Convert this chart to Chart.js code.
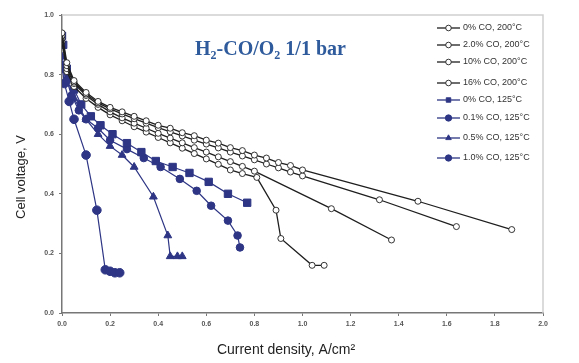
<!DOCTYPE html>
<html>
<head>
<meta charset="utf-8">
<script src="https://cdn.jsdelivr.net/npm/chart.js@4.4.1/dist/chart.umd.min.js"></script>
<style>
  html, body { margin: 0; padding: 0; background: #fff; }
  #wrap { width: 579px; height: 363px; }
</style>
</head>
<body>
<div id="wrap"><canvas id="polChart" width="579" height="363"></canvas></div>
<script>
// polarisation curves, H2-CO/O2 1/1 bar
const xTicks = [0, 0.2, 0.4, 0.6, 0.8, 1.0, 1.2, 1.4, 1.6, 1.8, 2.0];
const yTicks = [0, 0.2, 0.4, 0.6, 0.8, 1.0];
const xTitle = "Current density, A/cm²";
const yTitle = "Cell voltage, V";

const seriesLabels = [
  "0% CO, 200°C", "2.0% CO, 200°C", "10% CO, 200°C", "16% CO, 200°C",
  "0% CO, 125°C", "0.1% CO, 125°C", "0.5% CO, 125°C", "1.0% CO, 125°C"
];

// 200°C
const j_co0_200 = [0, 0.02, 0.05, 0.1, 0.15, 0.2, 0.25, 0.3, 0.35, 0.4, 0.45, 0.5, 0.55, 0.6, 0.65, 0.7, 0.75, 0.8, 0.85, 0.9, 0.95, 1.0, 1.48, 1.87];
const v_co0_200 = [0.94, 0.84, 0.78, 0.74, 0.71, 0.69, 0.675, 0.66, 0.645, 0.63, 0.62, 0.605, 0.595, 0.58, 0.57, 0.555, 0.545, 0.53, 0.52, 0.505, 0.495, 0.48, 0.375, 0.28];

const j_co2_200 = [0, 0.02, 0.05, 0.1, 0.15, 0.2, 0.25, 0.3, 0.35, 0.4, 0.45, 0.5, 0.55, 0.6, 0.65, 0.7, 0.75, 0.8, 0.85, 0.9, 0.95, 1.0, 1.32, 1.64];
const v_co2_200 = [0.93, 0.83, 0.775, 0.735, 0.705, 0.685, 0.668, 0.652, 0.637, 0.622, 0.608, 0.594, 0.58, 0.567, 0.554, 0.54, 0.527, 0.514, 0.5, 0.487, 0.473, 0.46, 0.38, 0.29];

const j_co10_200 = [0, 0.02, 0.05, 0.1, 0.15, 0.2, 0.25, 0.3, 0.35, 0.4, 0.45, 0.5, 0.55, 0.6, 0.65, 0.7, 0.75, 0.8, 1.12, 1.37];
const v_co10_200 = [0.92, 0.82, 0.77, 0.73, 0.7, 0.675, 0.655, 0.637, 0.62, 0.603, 0.587, 0.571, 0.555, 0.54, 0.524, 0.508, 0.492, 0.476, 0.35, 0.245];

const j_co16_200 = [0, 0.02, 0.05, 0.1, 0.15, 0.2, 0.25, 0.3, 0.35, 0.4, 0.45, 0.5, 0.55, 0.6, 0.65, 0.7, 0.75, 0.81, 0.89, 0.91, 1.04, 1.09];
const v_co16_200 = [0.91, 0.81, 0.76, 0.72, 0.69, 0.665, 0.645, 0.625, 0.607, 0.589, 0.571, 0.553, 0.535, 0.517, 0.499, 0.48, 0.468, 0.455, 0.345, 0.25, 0.16, 0.16];

// 125°C
const j_co0_125 = [0, 0.005, 0.02, 0.05, 0.08, 0.12, 0.16, 0.21, 0.27, 0.33, 0.39, 0.46, 0.53, 0.61, 0.69, 0.77];
const v_co0_125 = [0.93, 0.9, 0.82, 0.75, 0.7, 0.66, 0.63, 0.6, 0.57, 0.54, 0.51, 0.49, 0.47, 0.44, 0.4, 0.37];

const j_co01_125 = [0, 0.02, 0.04, 0.07, 0.1, 0.15, 0.2, 0.27, 0.34, 0.41, 0.49, 0.56, 0.62, 0.69, 0.73, 0.74];
const v_co01_125 = [0.82, 0.78, 0.73, 0.68, 0.65, 0.62, 0.58, 0.55, 0.52, 0.49, 0.45, 0.41, 0.36, 0.31, 0.26, 0.22];

const j_co05_125 = [0, 0.02, 0.05, 0.1, 0.15, 0.2, 0.25, 0.3, 0.38, 0.44, 0.45, 0.48, 0.5];
const v_co05_125 = [0.86, 0.79, 0.72, 0.65, 0.6, 0.56, 0.53, 0.49, 0.39, 0.26, 0.19, 0.19, 0.19];

const j_co1_125 = [0, 0.01, 0.03, 0.05, 0.1, 0.145, 0.18, 0.2, 0.22, 0.24];
const v_co1_125 = [0.83, 0.77, 0.71, 0.65, 0.53, 0.345, 0.145, 0.14, 0.135, 0.135];

const BLUE = "#2d3584";
const BLACK = "#1e1e1e";

function pts(j, v) {
  return j.map((x, i) => ({ x: x, y: v[i] }));
}

function blackSet(label, j, v) {
  return {
    label, data: pts(j, v),
    borderColor: BLACK, borderWidth: 1.3,
    pointStyle: "circle", pointRadius: 3,
    pointBackgroundColor: "#fff", pointBorderColor: BLACK, pointBorderWidth: 0.9,
    showLine: true, tension: 0
  };
}

function blueSet(label, j, v, style, r) {
  return {
    label, data: pts(j, v),
    borderColor: BLUE, borderWidth: 1.2,
    pointStyle: style, pointRadius: r,
    pointBackgroundColor: BLUE, pointBorderColor: BLUE, pointBorderWidth: 1,
    showLine: true, tension: 0
  };
}

const datasets = [
  blackSet(seriesLabels[0], j_co0_200, v_co0_200),
  blackSet(seriesLabels[1], j_co2_200, v_co2_200),
  blackSet(seriesLabels[2], j_co10_200, v_co10_200),
  blackSet(seriesLabels[3], j_co16_200, v_co16_200),
  blueSet(seriesLabels[4], j_co0_125, v_co0_125, "rect", 5.2),
  blueSet(seriesLabels[5], j_co01_125, v_co01_125, "circle", 3.8),
  blueSet(seriesLabels[6], j_co05_125, v_co05_125, "triangle", 4.5),
  blueSet(seriesLabels[7], j_co1_125, v_co1_125, "circle", 4.3)
];

// frame, axis titles, inset title and legend drawn on top
const extras = {
  id: "extras",
  afterDraw(chart) {
    const ctx = chart.ctx;
    const a = chart.chartArea;
    ctx.save();
    ctx.strokeStyle = "#cfcfcf";
    ctx.lineWidth = 1.5;
    ctx.beginPath();
    ctx.moveTo(a.left, a.top);
    ctx.lineTo(a.right, a.top);
    ctx.lineTo(a.right, a.bottom);
    ctx.stroke();

    // axis titles
    ctx.fillStyle = "#222";
    ctx.font = "14px 'Liberation Sans'";
    ctx.textAlign = "center";
    ctx.textBaseline = "middle";
    ctx.fillText(xTitle, 286, 350);
    ctx.save();
    ctx.translate(21, 177);
    ctx.rotate(-Math.PI / 2);
    ctx.font = "13px 'Liberation Sans'";
    ctx.fillText(yTitle, 0, 0);
    ctx.restore();

    // title H2-CO/O2 1/1 bar
    const parts = [["H", 0], ["2", 1], ["-CO/O", 0], ["2", 1], [" 1/1 bar", 0]];
    ctx.fillStyle = "#2f5b9c";
    ctx.textAlign = "left";
    ctx.textBaseline = "alphabetic";
    let x = 195;
    const y = 55;
    parts.forEach(([t, sub]) => {
      ctx.font = sub ? "bold 12px 'Liberation Serif'" : "bold 20px 'Liberation Serif'";
      ctx.fillText(t, x, sub ? y + 4 : y);
      x += ctx.measureText(t).width;
    });

    // legend
    const rows = [28, 45, 62, 83, 100, 118, 138, 158];
    ctx.font = "9px 'Liberation Sans'";
    ctx.textBaseline = "middle";
    chart.data.datasets.forEach((ds, i) => {
      const ly = rows[i];
      ctx.strokeStyle = ds.borderColor;
      ctx.lineWidth = 1.3;
      ctx.beginPath();
      ctx.moveTo(437, ly);
      ctx.lineTo(460, ly);
      ctx.stroke();
      ctx.fillStyle = ds.pointBackgroundColor;
      ctx.strokeStyle = ds.pointBorderColor;
      ctx.lineWidth = 0.9;
      Chart.helpers.drawPoint(ctx, {
        pointStyle: ds.pointStyle, radius: i < 4 ? 2.8 : 3.2,
        borderWidth: 0.9
      }, 448.5, ly);
      ctx.fillStyle = "#333";
      ctx.fillText(ds.label, 463, ly);
    });
    ctx.restore();
  }
};

new Chart(document.getElementById("polChart"), {
  type: "scatter",
  data: { datasets },
  options: {
    responsive: false,
    animation: false,
    layout: { padding: { left: 0, right: 36, top: 15, bottom: 0 } },
    plugins: { legend: { display: false }, tooltip: { enabled: false } },
    scales: {
      x: {
        type: "linear", min: 0, max: 2,
        afterBuildTicks: s => { s.ticks = xTicks.map(v => ({ value: v })); },
        afterFit: s => { s.height = 50; },
        grid: { drawOnChartArea: false, drawTicks: true, tickLength: 3, color: "#777" },
        border: { color: "#777", width: 1.5 },
        ticks: { color: "#555", font: { size: 7, weight: "bold", family: "'Liberation Sans'" }, padding: 4,
                 callback: v => v.toFixed(1) }
      },
      y: {
        type: "linear", min: 0, max: 1,
        afterBuildTicks: s => { s.ticks = yTicks.map(v => ({ value: v })); },
        afterFit: s => { s.width = 62; },
        grid: { drawOnChartArea: false, drawTicks: true, tickLength: 3, color: "#777" },
        border: { color: "#777", width: 1.5 },
        ticks: { color: "#555", font: { size: 7, weight: "bold", family: "'Liberation Sans'" }, padding: 5,
                 callback: v => v.toFixed(1) }
      }
    }
  },
  plugins: [extras]
});
</script>
</body>
</html>
